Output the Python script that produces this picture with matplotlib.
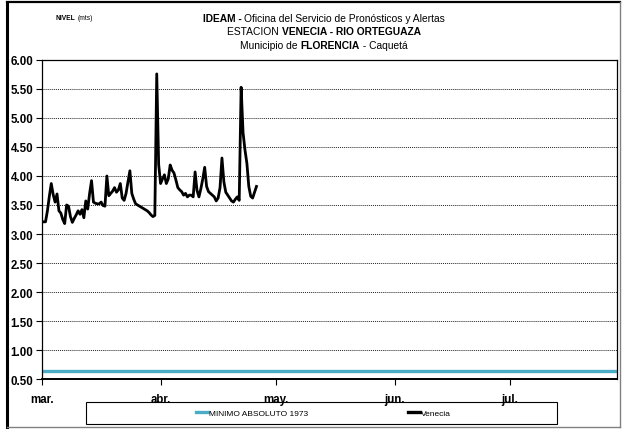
import numpy as np
import matplotlib
matplotlib.use("Agg")
from matplotlib import pyplot as plt
from matplotlib.lines import Line2D
from matplotlib.patches import Rectangle

plt.rcParams['font.family'] = ['Liberation Sans', 'DejaVu Sans']

# lecturas cada 12 horas desde el 1 de marzo (nivel en metros)
nivel_venecia = [
    3.21, 3.21, 3.21, 3.40, 3.65, 3.87, 3.68, 3.55, 3.69, 3.40,
    3.36, 3.25, 3.18, 3.50, 3.48, 3.30, 3.20, 3.27, 3.33, 3.40,
    3.34, 3.42, 3.28, 3.57, 3.43, 3.70, 3.92, 3.55, 3.53, 3.52,
    3.52, 3.55, 3.49, 3.48, 4.00, 3.66, 3.70, 3.74, 3.80, 3.72,
    3.76, 3.87, 3.62, 3.58, 3.70, 3.90, 4.09, 3.70, 3.60, 3.52,
    3.50, 3.48, 3.46, 3.44, 3.42, 3.40, 3.37, 3.33, 3.30, 3.32,
    5.76, 4.20, 3.87, 3.95, 4.02, 3.87, 3.95, 4.19, 4.10, 4.05,
    3.93, 3.80, 3.76, 3.73, 3.67, 3.70, 3.64, 3.67, 3.67, 3.64,
    4.07, 3.75, 3.64, 3.78, 3.95, 4.15, 3.82, 3.73, 3.70, 3.67,
    3.64, 3.57, 3.62, 3.80, 4.31, 3.90, 3.72, 3.67, 3.62, 3.57,
    3.55, 3.60, 3.64, 3.58, 5.53, 4.75, 4.45, 4.22, 3.82, 3.65,
    3.62, 3.72, 3.82,
]
horas_entre_lecturas = 12
minimo_absoluto_1973 = 0.64

meses = ['mar.', 'abr.', 'may.', 'jun.', 'jul.']
dias_inicio_mes = [0, 31, 61, 92, 122]
dias_total = 150

niveles_ticks = np.arange(0.5, 6.01, 0.5)

dias = np.arange(len(nivel_venecia)) * horas_entre_lecturas / 24.0

fig = plt.figure(figsize=(6.22, 4.31), dpi=100)
ax = fig.add_axes([0.067, 0.1183, 0.925, 0.7402])

ax.plot([0, dias_total], [minimo_absoluto_1973] * 2, color='#4BACC6', lw=2.4,
        solid_capstyle='butt', label='MINIMO ABSOLUTO 1973')
ax.plot(dias, nivel_venecia, color='black', lw=2.0, solid_joinstyle='round',
        label='Venecia')

ax.set_xlim(0, dias_total)
ax.set_ylim(0.5, 6.0)
ax.set_yticks(niveles_ticks)
ax.set_yticklabels(['%.2f' % v for v in niveles_ticks], fontweight='bold', fontsize=8.3)
ax.set_xticks(dias_inicio_mes)
ax.set_xticklabels(meses, fontweight='bold', fontsize=8.3)
ax.tick_params(axis='both', direction='out', length=4, width=0.8, color='black')
ax.tick_params(axis='x', pad=6)
ax.tick_params(axis='y', pad=2)

for v in niveles_ticks[1:-1]:
    ax.axhline(v, color='#222222', lw=0.7, ls=(0, (1, 1)), zorder=0)

for s in ['left', 'right', 'top']:
    ax.spines[s].set_linewidth(0.9)
ax.spines['bottom'].set_linewidth(1.4)

# titulo con partes en negrita
def linea_titulo(y, partes, size=7.4):
    r = fig.canvas.get_renderer()
    textos = []
    ancho = 0
    for txt, peso in partes:
        t = fig.text(0, y, txt, fontsize=size, fontweight=peso, va='baseline')
        w = t.get_window_extent(renderer=r).width
        textos.append((t, w))
        ancho += w
    x = 0.5 * (fig.bbox.width - ancho) + 13
    for t, w in textos:
        t.set_x(x / fig.bbox.width)
        x += w

linea_titulo(0.949, [('IDEAM - ', 'bold'), ('Oficina del Servicio de Pronósticos y Alertas', 'normal')])
linea_titulo(0.918, [('ESTACION ', 'normal'), ('VENECIA - RIO ORTEGUAZA', 'bold')])
linea_titulo(0.887, [('Municipio de ', 'normal'), ('FLORENCIA', 'bold'), (' - Caquetá', 'normal')])

fig.text(0.089, 0.954, 'NIVEL', fontsize=4.8, fontweight='bold', va='baseline')
fig.text(0.125, 0.954, '(mts)', fontsize=4.8, va='baseline')

# leyenda
fig.patches.append(Rectangle((0.138, 0.015), 0.757, 0.05, transform=fig.transFigure,
                             fill=False, edgecolor='black', lw=0.8))
handles = [Line2D([], [], color='#4BACC6', lw=2.4), Line2D([], [], color='black', lw=2.4)]
fig.legend(handles, ['MINIMO ABSOLUTO 1973', 'Venecia'], loc='center',
           bbox_to_anchor=(0.52, 0.04), ncol=2, frameon=False, fontsize=6,
           handlelength=1.4, handletextpad=0.1, columnspacing=12)

# marco exterior
fig.add_artist(Line2D([0.011, 0.011], [0.006, 0.993], transform=fig.transFigure, color='black', lw=2.2))
fig.add_artist(Line2D([0.011, 0.997], [0.993, 0.993], transform=fig.transFigure, color='black', lw=1.6))
fig.add_artist(Line2D([0.997, 0.997], [0.006, 0.993], transform=fig.transFigure, color='#808080', lw=1.0))
fig.add_artist(Line2D([0.011, 0.997], [0.006, 0.006], transform=fig.transFigure, color='#808080', lw=1.0))

fig.savefig('out.png', dpi=100)
